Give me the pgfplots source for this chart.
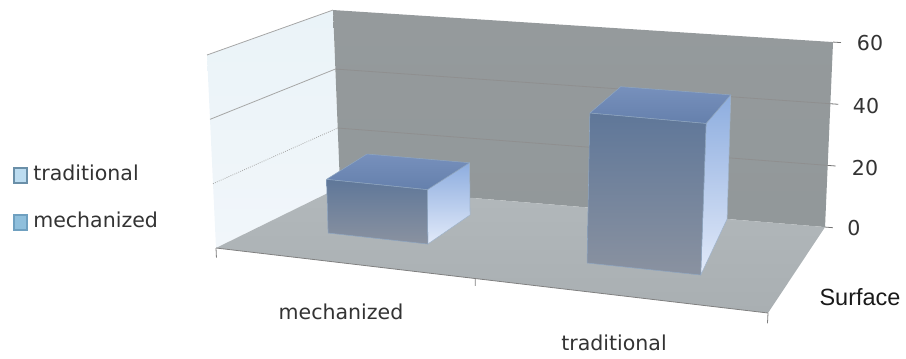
\documentclass[border=0pt]{standalone}
\usepackage{pgfplots}
\pgfplotsset{compat=1.18}
\usepackage{fontspec}
\setmainfont{DejaVu Sans}
\newfontfamily\arialfont{Liberation Sans}

% Perspective of the chart box: u runs along the categories (0..1),
% d runs from the front edge to the back wall (0..1), z is the value (0..60).
\pgfmathdeclarefunction{px}{3}{\pgfmathparse{(216+387.1*#1+179.6*#2)/(1-0.2147*#1+0.1634*#2)+#3/60*(-9+19*#1+2*#2-4*#1*#2)}}
\pgfmathdeclarefunction{py}{3}{\pgfmathparse{(248-2.2*#1-30.4*#2)/(1-0.2147*#1+0.1634*#2)+#3/60*(-193-12*#1+16*#2+4*#1*#2)}}

\pgfplotsset{
  /pgfplots/table/world/.style={
    row sep=crcr,
    x expr={px(\thisrow{u},\thisrow{d},\thisrow{z})},
    y expr={py(\thisrow{u},\thisrow{d},\thisrow{z})}},
  face/.style={no markers,forget plot,line join=round},
  grid line/.style={no markers,forget plot,line width=0.6pt},
}
\definecolor{wallL}{HTML}{EAF3F8}
\definecolor{wallLb}{HTML}{F1F6FA}
\definecolor{wallB}{HTML}{959A9C}
\definecolor{wallBb}{HTML}{92989A}
\definecolor{floorT}{HTML}{B2B8BB}
\definecolor{floorB}{HTML}{A9AFB2}
\definecolor{topT}{HTML}{7790BC}
\definecolor{topB}{HTML}{6580AC}
\definecolor{frontT}{HTML}{5F7799}
\definecolor{frontB}{HTML}{8A92A0}
\definecolor{sideT}{HTML}{8DADDF}
\definecolor{sideB}{HTML}{E2EAF9}
\definecolor{edge}{HTML}{5F80A6}
\definecolor{txt}{HTML}{333333}
\definecolor{swatchA}{HTML}{BCDCF0}
\definecolor{swatchAe}{HTML}{6A8FA8}
\definecolor{swatchB}{HTML}{8FBFDC}
\definecolor{swatchBe}{HTML}{6FA0C0}

\begin{document}
\begin{tikzpicture}
\begin{axis}[
  scale only axis,width=679.5pt,height=268.5pt,
  xmin=0,xmax=906,ymin=0,ymax=358,y dir=reverse,
  axis lines=none,clip=false,
]
% keeps the page at the full picture size
\path (axis cs:0,0) rectangle (axis cs:906,358);
% side wall and back wall
\addplot[face,draw=none,top color=wallL,bottom color=wallLb] table[world] {
u d z\\ 0 0 0\\ 0 1 0\\ 0 1 60\\ 0 0 60\\ 0 0 0\\};
\addplot[face,draw=none,top color=wallB,bottom color=wallBb] table[world] {
u d z\\ 0 1 0\\ 1 1 0\\ 1 1 60\\ 0 1 60\\ 0 1 0\\};
% gridlines on the side wall
\addplot[grid line,color=gray!70] table[world] {u d z\\ 0 0 60\\ 0 1 60\\};
\addplot[grid line,color=gray!70] table[world] {u d z\\ 0 0 40\\ 0 1 40\\};
\addplot[grid line,color=gray!70,densely dotted] table[world] {u d z\\ 0 0 20\\ 0 1 20\\};
% gridlines on the back wall
\addplot[grid line,color=black!44] table[world] {u d z\\ 0 1 40\\ 1 1 40\\};
\addplot[grid line,color=black!44] table[world] {u d z\\ 0 1 20\\ 1 1 20\\};
% floor
\addplot[face,draw=none,top color=floorT,bottom color=floorB] table[world] {
u d z\\ 0 0 0\\ 1 0 0\\ 1 1 0\\ 0 1 0\\ 0 0 0\\};
\addplot[grid line,color=black!50] table[world] {u d z\\ 0 0 0\\ 1 0 0\\};
% category ticks
\addplot[grid line,color=black!50] table[world] {u d z\\ 0 0 0\\ 0 0 -3\\};
\addplot[grid line,color=black!50] table[world] {u d z\\ 0.53 0 0\\ 0.53 0 -2.2\\};
\addplot[grid line,color=black!50] table[world] {u d z\\ 1 0 0\\ 1 0 -3\\};
% value ticks
\addplot[grid line,color=black!55] table[world] {u d z\\ 1 1 0\\ 1.013 1 0\\};
\addplot[grid line,color=black!55] table[world] {u d z\\ 1 1 20\\ 1.013 1 20\\};
\addplot[grid line,color=black!55] table[world] {u d z\\ 1 1 40\\ 1.013 1 40\\};
\addplot[grid line,color=black!55] table[world] {u d z\\ 1 1 60\\ 1.013 1 60\\};

% bar: mechanized, value 17
\addplot[face,draw=edge!60,top color=sideT,bottom color=sideB] table[world] {
u d z\\ 0.369 0.32 0\\ 0.363 0.748 0\\ 0.363 0.748 17\\ 0.369 0.32 17\\ 0.369 0.32 0\\};
\addplot[face,draw=edge!70,top color=topT,bottom color=topB] table[world] {
u d z\\ 0.155 0.327 17\\ 0.369 0.32 17\\ 0.363 0.748 17\\ 0.135 0.75 17\\ 0.155 0.327 17\\};
\addplot[face,draw=edge!70,top color=frontT,bottom color=frontB] table[world] {
u d z\\ 0.155 0.327 0\\ 0.369 0.32 0\\ 0.369 0.32 17\\ 0.155 0.327 17\\ 0.155 0.327 0\\};

% bar: traditional, value 46
\addplot[face,draw=edge!60,top color=sideT,bottom color=sideB] table[world] {
u d z\\ 0.866 0.295 0\\ 0.829 1.0 0\\ 0.858 0.723 46\\ 0.866 0.295 46\\ 0.866 0.295 0\\};
\addplot[face,draw=edge!70,top color=topT,bottom color=topB] table[world] {
u d z\\ 0.675 0.295 46\\ 0.866 0.295 46\\ 0.858 0.723 46\\ 0.665 0.72 46\\ 0.675 0.295 46\\};
\addplot[face,draw=edge!70,top color=frontT,bottom color=frontB] table[world] {
u d z\\ 0.675 0.295 0\\ 0.866 0.295 0\\ 0.866 0.295 46\\ 0.675 0.295 46\\ 0.675 0.295 0\\};

% legend keys
\draw[draw=swatchAe,line width=1pt,fill=swatchA] (axis cs:14,168) rectangle (axis cs:27,183);
\draw[draw=swatchBe,line width=1pt,fill=swatchB] (axis cs:14,215) rectangle (axis cs:27,230);

% tick labels, legend and axis texts
\begin{scope}[every node/.style={text=txt,font=\fontsize{15.4pt}{18pt}\selectfont,inner sep=0pt}]
\node[anchor=west] at (axis cs:33,173) {traditional};
\node[anchor=west] at (axis cs:33,220) {mechanized};
\node at (axis cs:870,43) {60};
\node at (axis cs:866,106) {40};
\node at (axis cs:865,168) {20};
\node at (axis cs:854,228) {0};
\node at (axis cs:341,312) {mechanized};
\node at (axis cs:614,343) {traditional};
\node[text=black!90,font=\arialfont\fontsize{17.6pt}{20pt}\selectfont] at (axis cs:860,297) {Surface};
\end{scope}
\end{axis}
\end{tikzpicture}
\end{document}
